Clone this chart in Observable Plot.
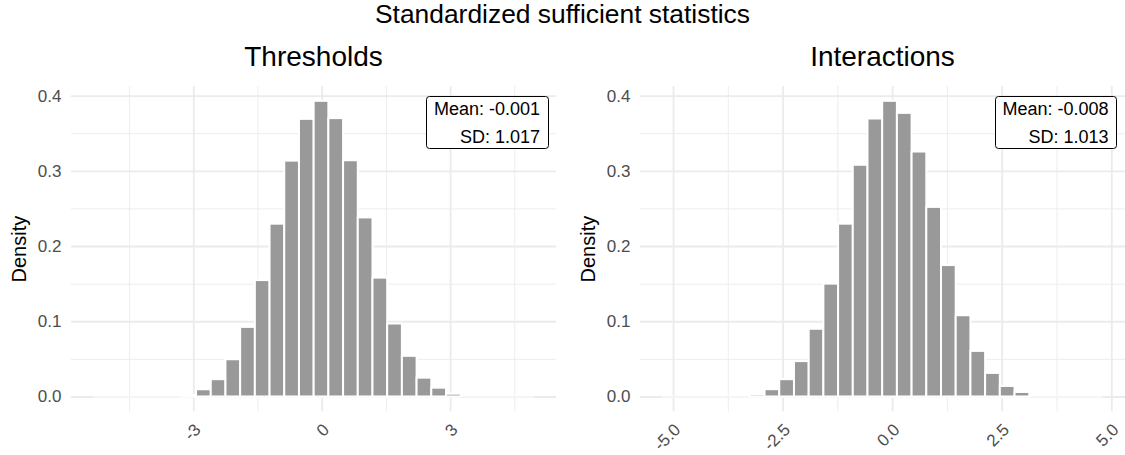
<!DOCTYPE html>
<html>
<head>
<meta charset="utf-8">
<script src="https://cdn.jsdelivr.net/npm/d3@7"></script>
<script src="https://cdn.jsdelivr.net/npm/@observablehq/plot@0.6"></script>
<style>
  html, body { margin: 0; padding: 0; background: #fff; }
  #chart { position: relative; width: 1125px; height: 455px; background: #fff; font-family: "Liberation Sans", Arial, Helvetica, sans-serif; overflow: hidden; }
  .ttl { position: absolute; text-align: center; color: #000; white-space: nowrap; }
  .panel { position: absolute; top: 76px; }
  .stats { position: absolute; top: 95.7px; border: 0.8px solid #000; border-radius: 3.5px; background: #fff; padding: 0 7.7px 0 7px; font-size: 18px; line-height: 28.3px; text-align: right; color: #000; white-space: nowrap; }
  .stats .inner { margin: -1.9px 0 -3.7px 0; }
</style>
</head>
<body>
<div id="chart">
  <div class="ttl" id="mainTitle" style="left:0;width:1125px;top:0px;font-size:26.4px;line-height:29.6px;"></div>
  <div class="ttl" id="sub0" style="left:71px;width:485px;top:43px;font-size:28px;line-height:28px;"></div>
  <div class="ttl" id="sub1" style="left:640px;width:485px;top:43px;font-size:28px;line-height:28px;"></div>
  <div class="panel" id="p0" style="left:0px;"></div>
  <div class="panel" id="p1" style="left:562px;"></div>
  <div class="stats" id="s0" style="right:576.3px;"><div class="inner"></div></div>
  <div class="stats" id="s1" style="right:7.7px;"><div class="inner"></div></div>
</div>
<script>
// ---------------- data ----------------
const mainTitle = "Standardized sufficient statistics";
const panelTitles = ["Thresholds", "Interactions"];
const yLabel = "Density";

// histogram bins (30 bins each): start of first bin and bin width
const thresholdsBinStart = -5.34;
const thresholdsBinWidth = 0.3435;
const thresholdsDensity = [0, 0, 0, 0, 0, 0, 0.002, 0.0096, 0.023, 0.0495, 0.0925, 0.1547, 0.2297, 0.3135, 0.369, 0.393, 0.370, 0.314, 0.238, 0.158, 0.097, 0.054, 0.025, 0.0117, 0.0037, 0, 0, 0, 0, 0];

const interactionsBinStart = -5.26;
const interactionsBinWidth = 0.3355;
const interactionsDensity = [0, 0, 0, 0, 0, 0, 0.003, 0.0097, 0.023, 0.047, 0.090, 0.150, 0.2297, 0.308, 0.3695, 0.393, 0.377, 0.3256, 0.252, 0.1747, 0.108, 0.0606, 0.0313, 0.014, 0.006, 0, 0, 0, 0, 0];

const thresholdsStats = ["Mean: -0.001", "SD: 1.017"];
const interactionsStats = ["Mean: -0.008", "SD: 1.013"];

const thresholdsTicks = [-3, 0, 3];
const thresholdsTickLabels = ["-3", "0", "3"];
const thresholdsMinor = [-4.5, -1.5, 1.5, 4.5];
const thresholdsXDomain = [-5.857, 5.474];

const interactionsTicks = [-5, -2.5, 0, 2.5, 5];
const interactionsTickLabels = ["-5.0", "-2.5", "0.0", "2.5", "5.0"];
const interactionsMinor = [-3.75, -1.25, 1.25, 3.75];
const interactionsXDomain = [-5.754, 5.313];

const yTicks = [0, 0.1, 0.2, 0.3, 0.4];
const yTickLabels = ["0.0", "0.1", "0.2", "0.3", "0.4"];
const yMinor = [0.05, 0.15, 0.25, 0.35];
const yDomain = [-0.0197, 0.4127];

// ---------------- drawing ----------------
document.getElementById("mainTitle").textContent = mainTitle;
document.getElementById("sub0").textContent = panelTitles[0];
document.getElementById("sub1").textContent = panelTitles[1];

function fillStats(id, lines) {
  const inner = document.querySelector("#" + id + " .inner");
  for (const l of lines) {
    const d = document.createElement("div");
    d.textContent = l;
    inner.appendChild(d);
  }
}
fillStats("s0", thresholdsStats);
fillStats("s1", interactionsStats);

const GRID = "#ebebeb";
const TICK = "#4d4d4d";
const BAR = "#999999";
const FONT = "'Liberation Sans', Arial, Helvetica, sans-serif";

function makeBins(start, width, dens) {
  return dens.map((d, k) => ({x1: start + k * width, x2: start + (k + 1) * width, y: d}));
}

function panel(opts) {
  const bins = makeBins(opts.binStart, opts.binWidth, opts.density);
  const ticks = opts.ticks.map((t, i) => ({x: t, label: opts.tickLabels[i]}));
  const yt = yTicks.map((t, i) => ({y: t, label: yTickLabels[i]}));
  return Plot.plot({
    width: opts.width,
    height: 379,
    marginLeft: opts.marginLeft,
    marginRight: opts.marginRight,
    marginTop: 10,
    marginBottom: 43.7,
    style: {fontFamily: FONT, background: "transparent", overflow: "visible"},
    x: {domain: opts.xDomain, axis: null},
    y: {domain: yDomain, axis: null},
    marks: [
      Plot.ruleY(yMinor, {stroke: GRID, strokeWidth: 0.9}),
      Plot.ruleX(opts.minor, {stroke: GRID, strokeWidth: 0.9}),
      Plot.ruleY(yTicks, {stroke: GRID, strokeWidth: 1.8}),
      Plot.ruleX(opts.ticks, {stroke: GRID, strokeWidth: 1.8}),
      Plot.ruleY(bins, {x1: "x1", x2: "x2", y: 0, stroke: "white", strokeWidth: 1}),
      Plot.rectY(bins, {x1: "x1", x2: "x2", y: "y", fill: BAR, stroke: "white", strokeWidth: 2}),
      // y tick labels
      Plot.text(yt, {y: "y", text: "label", frameAnchor: "left", dx: -10, textAnchor: "end", fontSize: 17, fill: TICK}),
      // x tick labels
      Plot.text(ticks, {x: "x", text: "label", frameAnchor: "bottom", dx: 8, dy: 19, rotate: -45, textAnchor: "end", lineAnchor: "bottom", fontSize: 17, fill: TICK}),
      // y axis title
      Plot.text([yLabel], {frameAnchor: "left", dx: -52, rotate: -90, textAnchor: "middle", lineAnchor: "middle", fontSize: 20, fill: "black"})
    ]
  });
}

const p0 = panel({width: 562, marginLeft: 71, marginRight: 6, binStart: thresholdsBinStart, binWidth: thresholdsBinWidth, density: thresholdsDensity, ticks: thresholdsTicks, tickLabels: thresholdsTickLabels, minor: thresholdsMinor, xDomain: thresholdsXDomain});
const p1 = panel({width: 563, marginLeft: 78, marginRight: 0, binStart: interactionsBinStart, binWidth: interactionsBinWidth, density: interactionsDensity, ticks: interactionsTicks, tickLabels: interactionsTickLabels, minor: interactionsMinor, xDomain: interactionsXDomain});
document.getElementById("p0").appendChild(p0);
document.getElementById("p1").appendChild(p1);
</script>
</body>
</html>
